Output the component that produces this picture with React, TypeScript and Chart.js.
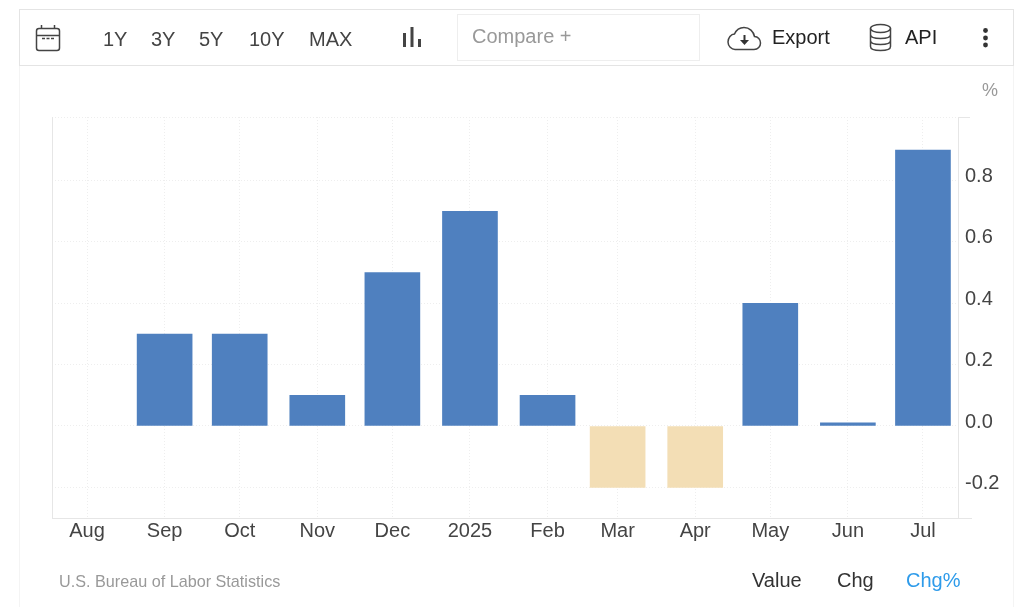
import React, { useEffect, useRef } from "react";
import { Chart, registerables } from "chart.js";

Chart.register(...registerables);

const categories = ["Aug", "Sep", "Oct", "Nov", "Dec", "2025", "Feb", "Mar", "Apr", "May", "Jun", "Jul"];
// days since 1 Aug 2024, for a true-time x axis (months have uneven lengths)
const dayOffsets = [0, 31, 61, 92, 122, 153, 184, 212, 243, 273, 304, 334];
const changePct = [0, 0.3, 0.3, 0.1, 0.5, 0.7, 0.1, -0.2, -0.2, 0.4, 0.01, 0.9];
const yTickValues = [-0.2, 0, 0.2, 0.4, 0.6, 0.8];
const rangeButtons: [string, number][] = [["1Y", 103], ["3Y", 151], ["5Y", 199], ["10Y", 249], ["MAX", 309]];
const modeButtons: [string, number, string][] = [["Value", 752, "#333"], ["Chg", 837, "#333"], ["Chg%", 906, "#2e9bea"]];

const FONT = '"Liberation Sans", Arial, sans-serif';
const BLUE = "#4f80bf";
const SAND = "#f3deb5";
const X_MIN = -14;
const X_MAX = 348;
const Y_MIN = -0.3;
const Y_MAX = 1.0075;

const framePlugin = {
  id: "frame",
  beforeDatasetsDraw(chart: any) {
    const { ctx, chartArea: a } = chart;
    ctx.save();
    ctx.strokeStyle = "#e6e6e6";
    ctx.lineWidth = 1;
    ctx.beginPath();
    ctx.moveTo(a.left + 0.5, a.top);
    ctx.lineTo(a.left + 0.5, a.bottom);
    ctx.moveTo(a.left, a.bottom + 0.5);
    ctx.lineTo(a.right + 14, a.bottom + 0.5);
    ctx.moveTo(a.right + 0.5, a.top);
    ctx.lineTo(a.right + 0.5, a.bottom);
    ctx.moveTo(a.right, a.top + 0.5);
    ctx.lineTo(a.right + 12, a.top + 0.5);
    ctx.stroke();
    ctx.restore();
  },
};

const txt = (s: string, left: number, top: number, size: number, color: string) => (
  <span
    key={s}
    style={{
      position: "absolute", left, top, fontSize: size, lineHeight: "24px", color,
      fontFamily: FONT, whiteSpace: "nowrap",
    }}
  >
    {s}
  </span>
);

const iconStroke = { fill: "none", stroke: "#444", strokeWidth: 1.5 };

export default function App() {
  const ref = useRef<HTMLCanvasElement>(null);

  useEffect(() => {
    document.body.style.margin = "0";
    document.body.style.background = "#fff";
    const chart = new Chart(ref.current!, {
      type: "bar",
      plugins: [framePlugin],
      data: {
        datasets: [
          {
            data: dayOffsets.map((x, i) => ({ x, y: changePct[i] })),
            backgroundColor: changePct.map((v) => (v === 0 ? "transparent" : v < 0 ? SAND : BLUE)),
            barThickness: 55,
          },
        ],
      },
      options: {
        responsive: false,
        animation: false,
        layout: { padding: { left: 52, top: 117, right: 0, bottom: 0 } },
        plugins: { legend: { display: false }, tooltip: { enabled: false }, title: { display: false } },
        scales: {
          x: {
            type: "linear",
            offset: false,
            min: X_MIN,
            max: X_MAX,
            afterBuildTicks: (s: any) => {
              s.ticks = dayOffsets.map((value) => ({ value }));
            },
            afterFit: (s: any) => {
              s.height = 89;
            },
            grid: { color: "#eeeeee", drawTicks: false, offset: false },
            border: { display: false, dash: [1, 2] },
            ticks: {
              autoSkip: false,
              maxRotation: 0,
              padding: 1,
              color: "#444",
              font: { family: FONT, size: 20 },
              callback: (v: any) => categories[dayOffsets.indexOf(v)] ?? "",
            },
          },
          y: {
            type: "linear",
            position: "right",
            min: Y_MIN,
            max: Y_MAX,
            afterBuildTicks: (s: any) => {
              s.ticks = [...yTickValues, Y_MAX].map((value) => ({ value }));
            },
            afterFit: (s: any) => {
              s.width = 66;
            },
            grid: { color: "#eeeeee", drawTicks: false },
            border: { display: false, dash: [1, 2] },
            ticks: {
              padding: 7,
              labelOffset: -4,
              color: "#444",
              font: { family: FONT, size: 20 },
              callback: (v: any) => (yTickValues.includes(v) ? Number(v).toFixed(1) : ""),
            },
          },
        },
      },
    } as any);
    return () => chart.destroy();
  }, []);

  return (
    <div style={{ position: "absolute", left: 0, top: 0, width: 1024, height: 607, overflow: "hidden", background: "#fff" }}>
      <canvas ref={ref} width={1024} height={607} style={{ position: "absolute", left: 0, top: 0, display: "block" }} />
      {/* outer panel side rules */}
      <div style={{ position: "absolute", left: 19, top: 65, width: 993, height: 542, borderLeft: "1px solid #f4f4f4", borderRight: "1px solid #f4f4f4" }} />
      {/* toolbar */}
      <div style={{ position: "absolute", left: 19, top: 9, width: 993, height: 55, border: "1px solid #e4e4e4" }} />
      <div style={{ position: "absolute", left: 457, top: 14, width: 241, height: 45, border: "1px solid #eeeeee" }} />
      <svg width={1024} height={70} style={{ position: "absolute", left: 0, top: 0 }}>
        {/* calendar */}
        <rect x={36.5} y={28.5} width={23} height={22} rx={2.5} {...iconStroke} />
        <path d="M36.5 35.5H59.5M41.5 25V29M54.5 25V29" {...iconStroke} />
        <path d="M42 38.5h3M46.5 38.5h3M51 38.5h3" stroke="#444" strokeWidth={1.6} fill="none" />
        {/* bars */}
        <path d="M404.5 33V47M412 27V47M419.5 39V47" stroke="#444" strokeWidth={3} fill="none" />
        {/* cloud */}
        <path d="M735 49.5h19c4 0 6.500-3 6.500-6.500 0-3.500-2.500-6.500-6-6.500-1-5-5-9-10.500-9-4.500 0-8 3-9.500 6.500-3.500 0-6.500 4-6.500 8 0 4 3.500 7.500 7 7.500z" {...iconStroke} />
        <path d="M744.500 35v7" stroke="#333" strokeWidth={2} fill="none" />
        <path d="M740 40h9l-4.500 5z" fill="#333" />
        {/* database */}
        <ellipse cx={880.500} cy={28.500} rx={10} ry={4} {...iconStroke} />
        <path d="M870.500 28.500V46.500c0 2.500 4.500 4 10 4s10-1.500 10-4V28.500M870.500 34.500c0 2.500 4.500 4 10 4s10-1.500 10-4M870.500 40.500c0 2.500 4.500 4 10 4s10-1.500 10-4" {...iconStroke} />
        {/* kebab */}
        <circle cx={985.500} cy={30.500} r={2.400} fill="#333" />
        <circle cx={985.500} cy={38} r={2.400} fill="#333" />
        <circle cx={985.500} cy={45} r={2.400} fill="#333" />
      </svg>
      {rangeButtons.map(([s, x]) => txt(s, x, 27, 20, "#444"))}
      {txt("Compare +", 472, 24, 20, "#999")}
      {txt("Export", 772, 25, 20, "#222")}
      {txt("API", 905, 25, 20, "#222")}
      {txt("%", 982, 78, 18, "#999")}
      {txt("U.S. Bureau of Labor Statistics", 59, 569, 16.2, "#999")}
      {modeButtons.map(([s, x, c]) => txt(s, x, 568, 20, c))}
    </div>
  );
}
